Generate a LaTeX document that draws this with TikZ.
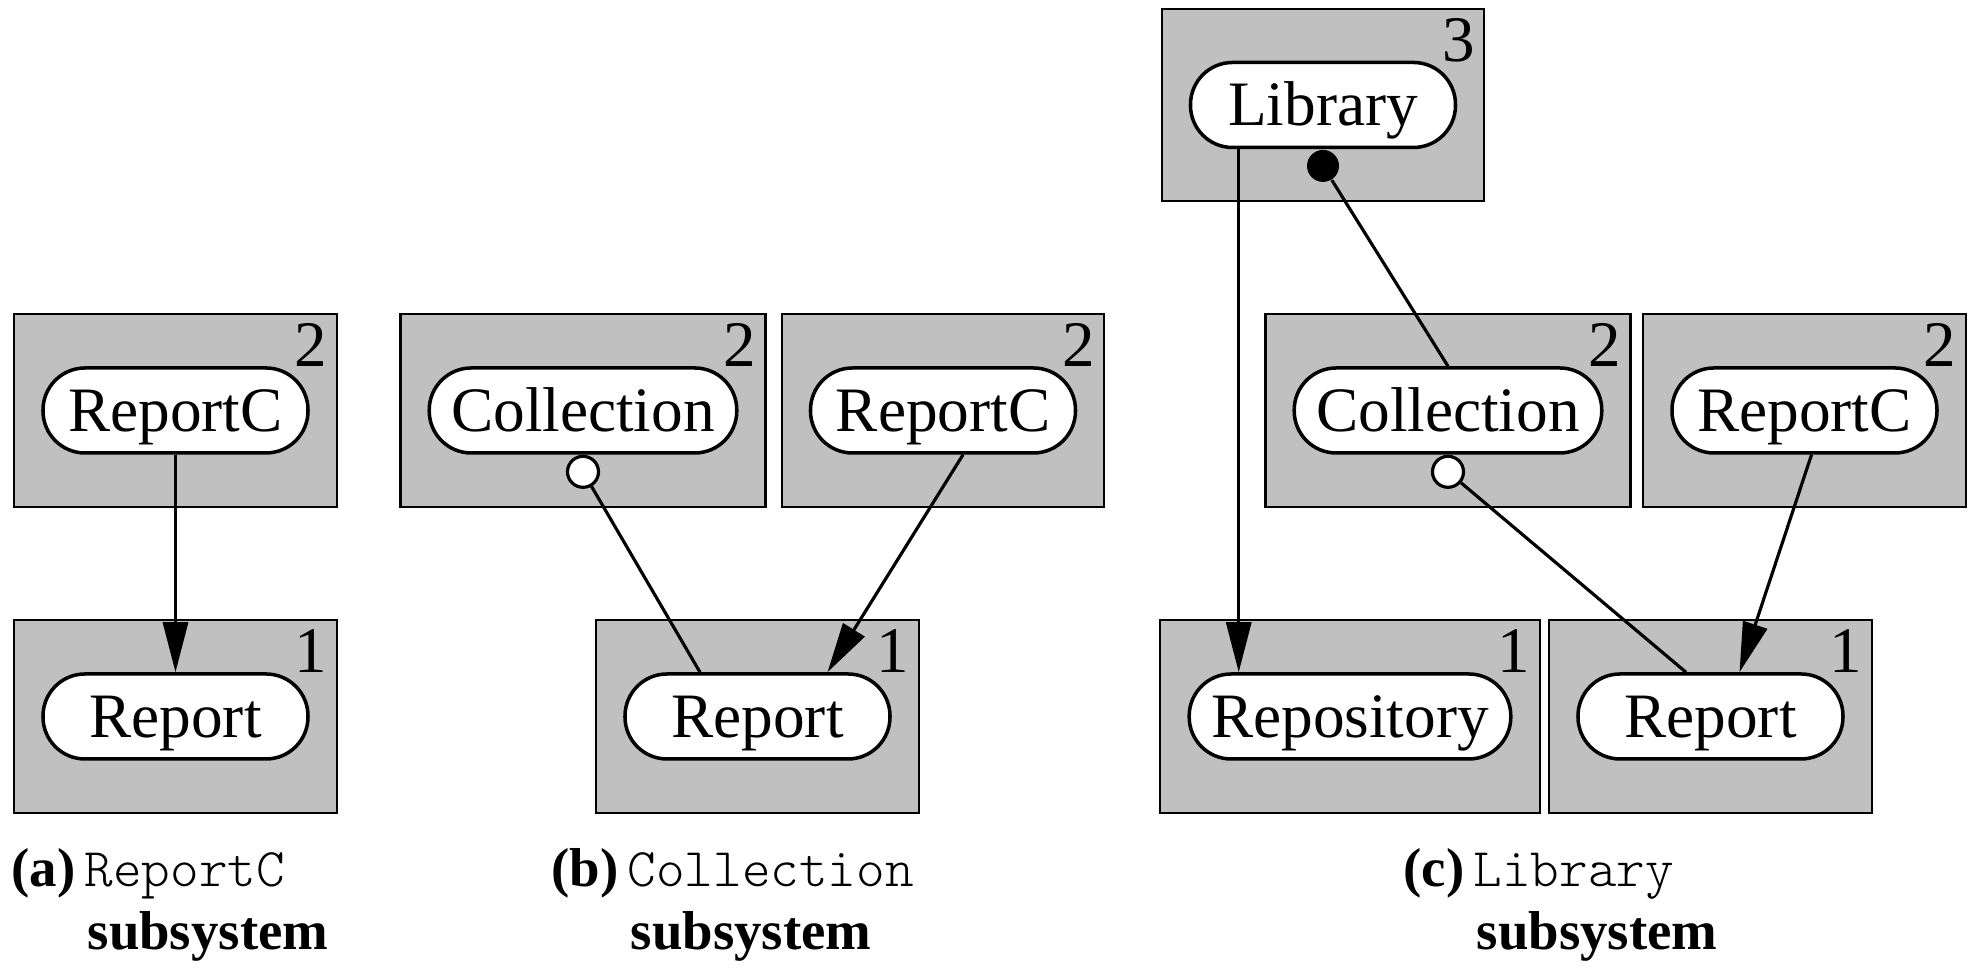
\documentclass[tikz,border=0pt]{standalone}
\usepackage{fontspec}
\setmainfont{Liberation Serif}
\newfontfamily\lighttt{Latin Modern Mono Light}
\usepackage{xcolor}
\usepackage{tikz}
\usetikzlibrary{positioning,arrows.meta,calc,fit,backgrounds}
\definecolor{subgray}{RGB}{192,192,192}
\newcommand{\modname}[1]{{\lighttt #1}}
\tikzset{
  comp/.style={draw, line width=1pt, fill=white, rounded corners=4.2mm, minimum width=2.65cm, minimum height=0.85cm, inner xsep=0.22cm, inner ysep=0pt, text height=0.42cm, text depth=0pt, font=\fontsize{18}{21}\selectfont},
  subsys/.style={draw, line width=0.6pt, fill=subgray, inner xsep=0.27cm, inner ysep=0.52cm},
  lvl/.style={anchor=north east, inner sep=0pt, font=\fontsize{18.5}{21}\selectfont},
  uses/.style={-{Triangle[length=5mm,width=2.5mm]}, line width=0.9pt},
  dep/.style={line width=0.9pt},
  opendot/.style={circle, draw, fill=white, line width=0.9pt, minimum size=0.31cm, inner sep=0pt},
  fulldot/.style={circle, fill=black, minimum size=0.32cm, inner sep=0pt},
  capfig/.style={anchor=base east, inner sep=0pt, font=\fontsize{15.6}{18}\selectfont\bfseries},
  capmod/.style={anchor=base west, inner sep=0pt, font=\fontsize{15.5}{18}\selectfont},
  capsub/.style={anchor=base west, inner sep=0pt, font=\fontsize{15.6}{18}\selectfont\bfseries},
}

\begin{document}
\begin{tikzpicture}
    \useasboundingbox (0,0) rectangle (19.73,9.68);
    % (a) ReportC subsystem
    \node[comp] (arepc) at (1.755,5.575) {ReportC};
    \node[comp] (arep) at (1.755,2.515) {Report};
    % (b) Collection subsystem
    \node[comp] (bcol) at (5.83,5.575) {Collection};
    \node[comp] (brepc) at (9.43,5.575) {ReportC};
    \node[comp] (brep) at (7.575,2.515) {Report};
    % (c) Library subsystem
    \node[comp] (clib) at (13.23,8.63) {Library};
    \node[comp] (ccol) at (14.48,5.575) {Collection};
    \node[comp] (crepc) at (18.045,5.575) {ReportC};
    \node[comp] (crepo) at (13.50,2.515) {Repository};
    \node[comp] (crep) at (17.105,2.515) {Report};
    % shaded boxes and their levels
    \begin{scope}[on background layer]
      \foreach \n in {arepc,arep,bcol,brepc,brep,clib,ccol,crepc,crepo,crep}{\node[subsys, fit=(\n)] (\n-box) {};}
    \end{scope}
    \foreach \n/\l in {arepc/2,arep/1,bcol/2,brepc/2,brep/1,clib/3,ccol/2,crepc/2,crepo/1,crep/1}{\node[lvl] at ([xshift=-0.1cm,yshift=-0.1cm]\n-box.north east) {\l};}
    % links
    \draw[uses] (arepc) -- (arep);
    \node[opendot, anchor=north] (bcoldot) at (bcol.south) {};
    \draw[dep] (bcoldot) -- ($(brep.north)+(-0.575,0)$);
    \draw[uses] ($(brepc.south)+(0.2,0)$) -- ($(brep.north)+(0.7,0)$);
    \node[fulldot, anchor=north] (clibdot) at (clib.south) {};
    \coordinate (libl) at ($(clib.south west)+(0.5,0)$);
    \draw[uses] (libl) -- (libl |- crepo.north);
    \draw[dep] (clibdot) -- (ccol.north);
    \node[opendot, anchor=north] (ccoldot) at (ccol.south) {};
    \draw[dep] (ccoldot) -- ($(crep.north)+(-0.245,0)$);
    \draw[uses] ($(crepc.south)+(0.07,0)$) -- ($(crep.north)+(0.29,0)$);
    % captions
    \node[capmod] (amod) at (0.84,0.81) {\modname{ReportC}};
    \node[capfig] (afig) at ([xshift=-0.08cm]amod.base west) {(a)};
    \node[capsub] (asub) at ([xshift=0.03cm,yshift=-0.63cm]amod.base west) {subsystem};
    \node[capmod] (bmod) at (6.27,0.81) {\modname{Collection}};
    \node[capfig] (bfig) at ([xshift=-0.08cm]bmod.base west) {(b)};
    \node[capsub] (bsub) at ([xshift=0.03cm,yshift=-0.63cm]bmod.base west) {subsystem};
    \node[capmod] (cmod) at (14.73,0.81) {\modname{Library}};
    \node[capfig] (cfig) at ([xshift=-0.08cm]cmod.base west) {(c)};
    \node[capsub] (csub) at ([xshift=0.03cm,yshift=-0.63cm]cmod.base west) {subsystem};
\end{tikzpicture}
\end{document}
